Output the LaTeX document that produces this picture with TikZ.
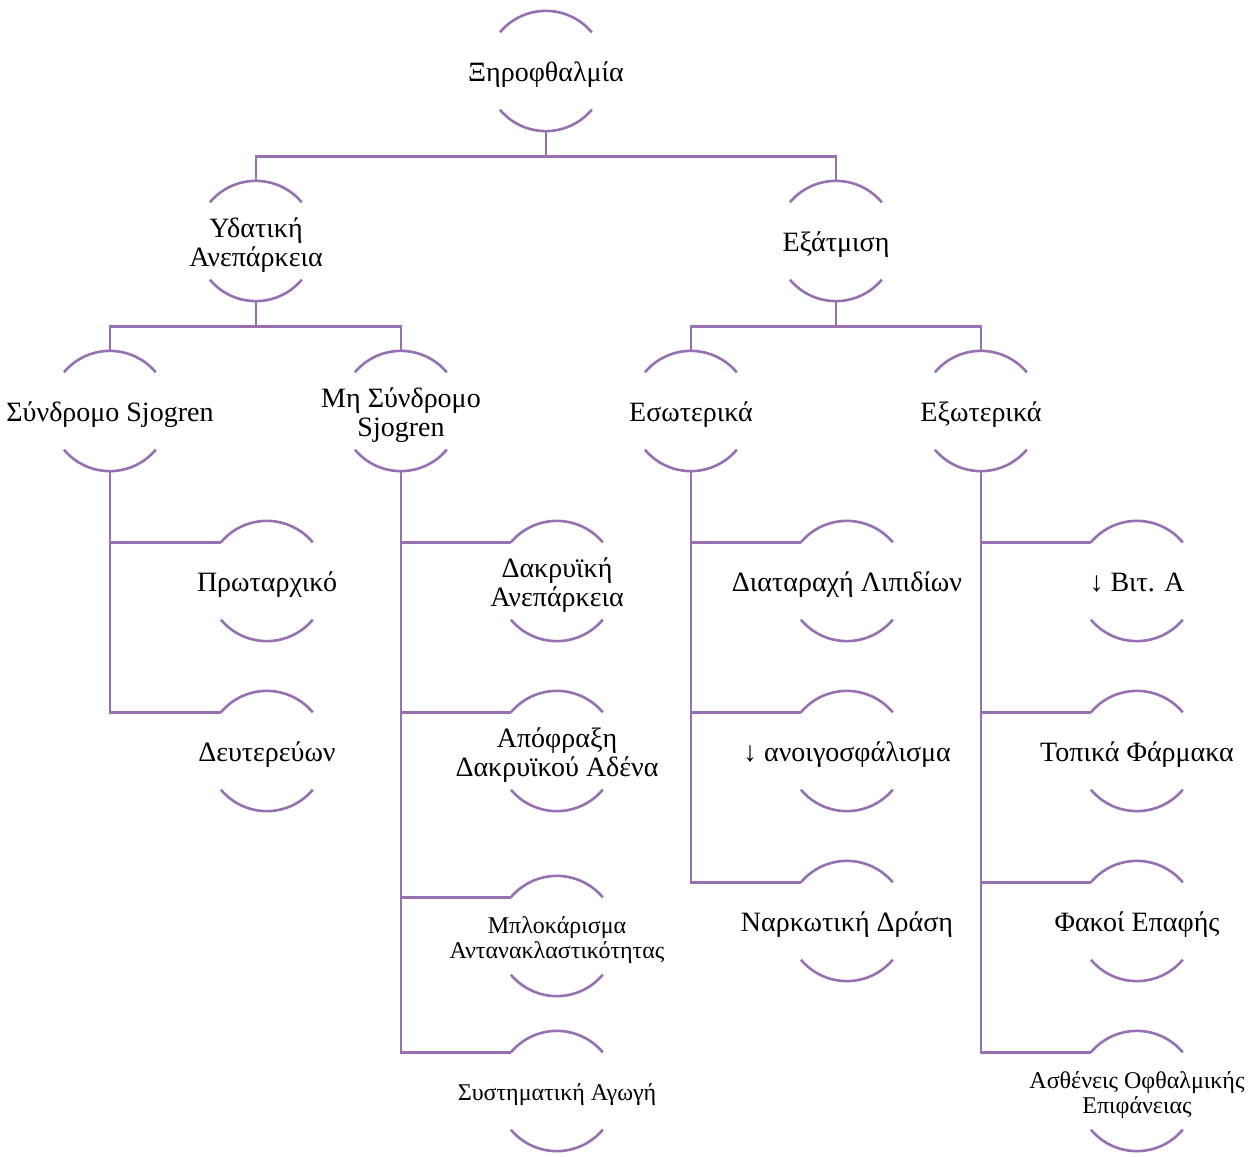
\documentclass[tikz,border=0pt]{standalone}
\usepackage{fontspec}
\setmainfont{Liberation Serif}
\usepackage{xcolor}
\usepackage{tikz}
\usetikzlibrary{positioning, calc}
\definecolor{lila}{RGB}{150,112,176}
\newcommand{\treecolor}{lila}
\newcommand{\lbl}[1]{\raisebox{-11pt}[0pt][0pt]{\makebox[0pt]{\begin{tabular}{@{}c@{}}#1\end{tabular}}}}

\begin{document}
\begin{tikzpicture}[x=1pt, y=1pt]
	\tikzstyle{halo}=[circle, minimum size=120pt, inner sep=0pt, font=\fontsize{28}{29}\selectfont]
	\tikzstyle{halos}=[halo, font=\fontsize{24}{25}\selectfont]
	\tikzstyle{wire}=[draw=\treecolor, line width=2.6pt]

	\useasboundingbox (0,0) rectangle (1255,-1156);

	%% top levels
	\node (t00) at (546,-71) [halo]{\lbl{Ξηροφθαλμία}};
	\node (t10) at (256,-241) [halo]{\lbl{Υδατική\\Ανεπάρκεια}};
	\node (t11) at (836,-241) [halo]{\lbl{Εξάτμιση}};

	\node (t20) at (110,-411) [halo]{\lbl{Σύνδρομο Sjogren}};
	\node (t21) at (401,-411) [halo]{\lbl{Μη Σύνδρομο\\Sjogren}};
	\node (t22) at (691,-411) [halo]{\lbl{Εσωτερικά}};
	\node (t23) at (981,-411) [halo]{\lbl{Εξωτερικά}};

	%% leaves
	\node (a1) at (267,-581) [halo]{\lbl{Πρωταρχικό}};
	\node (a2) at (267,-751) [halo]{\lbl{Δευτερεύων}};

	\node (b1) at (557,-581) [halo]{\lbl{Δακρυϊκή\\Ανεπάρκεια}};
	\node (b2) at (557,-751) [halo]{\lbl{Απόφραξη\\Δακρυϊκού Αδένα}};
	\node (b3) at (557,-936) [halos]{\lbl{Μπλοκάρισμα\\Αντανακλαστικότητας}};
	\node (b4) at (557,-1091) [halos]{\lbl{Συστηματική Αγωγή}};

	\node (c1) at (847,-581) [halo]{\lbl{Διαταραχή Λιπιδίων}};
	\node (c2) at (847,-751) [halo]{\lbl{↓ ανοιγοσφάλισμα}};
	\node (c3) at (847,-921) [halo]{\lbl{Ναρκωτική Δράση}};

	\node (d1) at (1137,-581) [halo]{\lbl{↓ Βιτ. Α}};
	\node (d2) at (1137,-751) [halo]{\lbl{Τοπικά Φάρμακα}};
	\node (d3) at (1137,-921) [halo]{\lbl{Φακοί Επαφής}};
	\node (d4) at (1137,-1091) [halos]{\lbl{Ασθένεις Οφθαλμικής\\Επιφάνειας}};

	%% arcs above and below each label
	\foreach \n in {t00,t10,t11,t20,t21,t22,t23,a1,a2,b1,b2,b3,b4,c1,c2,c3,d1,d2,d3,d4}
	{
		\draw[wire] (\n.140) arc[start angle=140, end angle=40, radius=60pt];
		\draw[wire] (\n.220) arc[start angle=220, end angle=320, radius=60pt];
	}

	%% branches
	\foreach \p/\c in {t00/t10, t00/t11, t10/t20, t10/t21, t11/t22, t11/t23}
		\draw[wire] (\p.south) -- ++(0,-25) -| (\c.north);

	\foreach \p/\c in {t20/a1, t20/a2, t21/b1, t21/b2, t21/b3, t21/b4, t22/c1, t22/c2, t22/c3, t23/d1, t23/d2, t23/d3, t23/d4}
		\draw[wire] (\p.south) |- (\c.140);
\end{tikzpicture}
\end{document}
